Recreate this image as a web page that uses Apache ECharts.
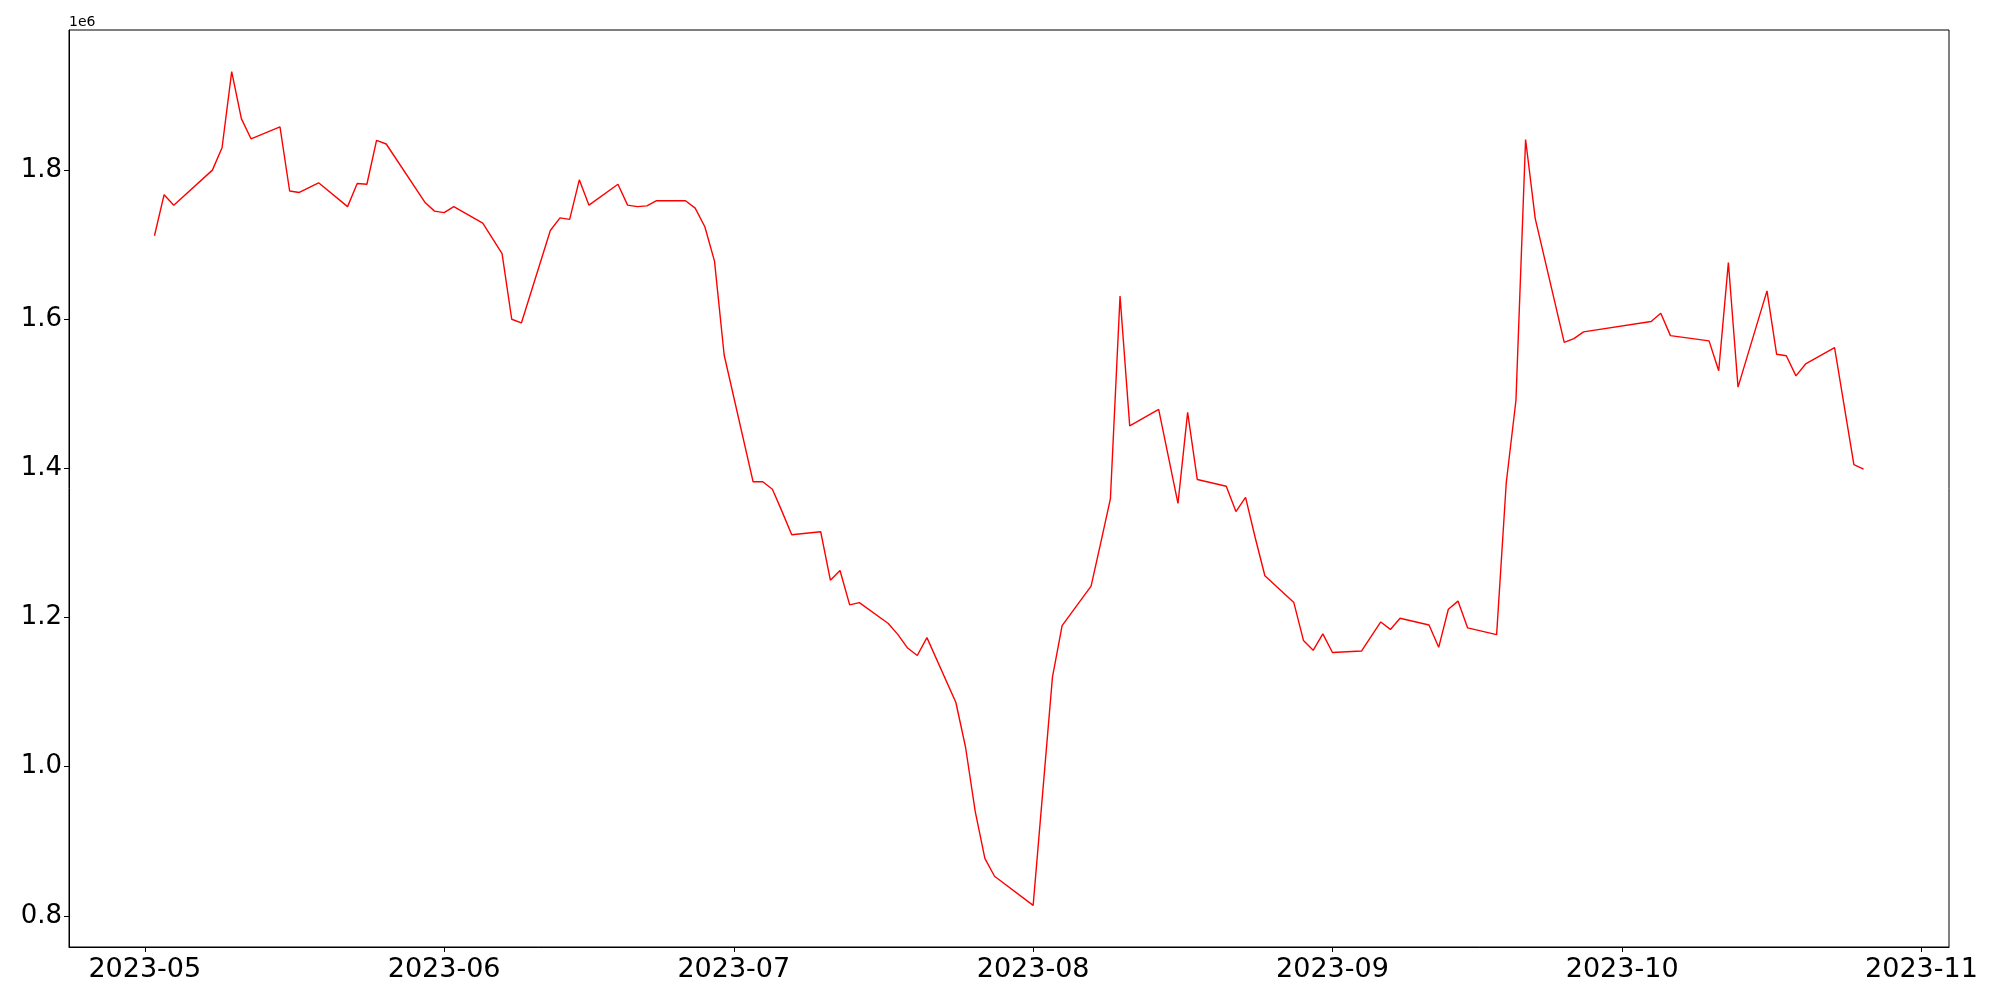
<!DOCTYPE html>
<html>
<head>
<meta charset="utf-8">
<script src="https://cdn.jsdelivr.net/npm/echarts@6/dist/echarts.min.js"></script>
<style>
html,body{margin:0;padding:0;background:#ffffff;}
#chart{width:2000px;height:1000px;}
</style>
</head>
<body>
<div id="chart"></div>
<script>
// ---- data ----
const dates = [
  '2023-05-02','2023-05-03','2023-05-04','2023-05-08','2023-05-09','2023-05-10','2023-05-11','2023-05-12',
  '2023-05-15','2023-05-16','2023-05-17','2023-05-19','2023-05-22','2023-05-23','2023-05-24','2023-05-25',
  '2023-05-26','2023-05-30','2023-05-31','2023-06-01','2023-06-02','2023-06-05','2023-06-07','2023-06-08',
  '2023-06-09','2023-06-12','2023-06-13','2023-06-14','2023-06-15','2023-06-16','2023-06-19','2023-06-20',
  '2023-06-21','2023-06-22','2023-06-23','2023-06-26','2023-06-27','2023-06-28','2023-06-29','2023-06-30',
  '2023-07-03','2023-07-04','2023-07-05','2023-07-06','2023-07-07','2023-07-10','2023-07-11','2023-07-12',
  '2023-07-13','2023-07-14','2023-07-17','2023-07-18','2023-07-19','2023-07-20','2023-07-21','2023-07-24',
  '2023-07-25','2023-07-26','2023-07-27','2023-07-28','2023-08-01','2023-08-03','2023-08-04','2023-08-07',
  '2023-08-08','2023-08-09','2023-08-10','2023-08-11','2023-08-14','2023-08-16','2023-08-17','2023-08-18',
  '2023-08-21','2023-08-22','2023-08-23','2023-08-24','2023-08-25','2023-08-28','2023-08-29','2023-08-30',
  '2023-08-31','2023-09-01','2023-09-04','2023-09-06','2023-09-07','2023-09-08','2023-09-11','2023-09-12',
  '2023-09-13','2023-09-14','2023-09-15','2023-09-18','2023-09-19','2023-09-20','2023-09-21','2023-09-22',
  '2023-09-25','2023-09-26','2023-09-27','2023-10-04','2023-10-05','2023-10-06','2023-10-10','2023-10-11',
  '2023-10-12','2023-10-13','2023-10-16','2023-10-17','2023-10-18','2023-10-19','2023-10-20','2023-10-23',
  '2023-10-25','2023-10-26'
];
const values = [
  1712000,1767000,1753000,1800000,1830000,1932000,1869000,1842000,
  1858000,1772000,1770000,1783000,1751000,1782000,1781000,1840000,
  1835000,1757000,1745000,1743000,1751000,1729000,1688000,1600000,
  1595000,1719000,1736000,1734000,1787000,1753000,1781000,1753000,
  1751000,1752000,1759000,1759000,1749000,1724000,1678000,1552000,
  1382000,1382000,1372000,1342000,1311000,1315000,1250000,1263000,
  1217000,1220000,1192000,1177000,1159000,1149000,1173000,1086000,
  1026000,940000,877000,853000,814000,1120000,1189000,1242000,
  1300000,1359000,1631000,1457000,1479000,1353000,1475000,1385000,
  1376000,1342000,1361000,1307000,1256000,1220000,1169000,1156000,
  1178000,1153000,1155000,1194000,1184000,1199000,1190000,1160000,
  1211000,1222000,1186000,1177000,1381000,1491000,1841000,1735000,
  1569000,1574000,1583000,1597000,1608000,1578000,1571000,1531000,
  1676000,1509000,1638000,1553000,1551000,1524000,1540000,1562000,
  1405000,1399000
];
const xTickLabels = ['2023-05','2023-06','2023-07','2023-08','2023-09','2023-10','2023-11'];
const yTickValues = [800000,1000000,1200000,1400000,1600000,1800000];
const offsetText = '1e6';

// ---- build ----
const times = dates.map(d => Date.parse(d));
const seriesData = times.map((t, i) => [t, values[i]]);
const tMin = Math.min(...times), tMax = Math.max(...times);
const tPad = (tMax - tMin) * 0.05;
const vMin = Math.min(...values), vMax = Math.max(...values);
const vPad = (vMax - vMin) * 0.05;
const xTicks = xTickLabels.map(s => Date.parse(s + '-01'));

function fmtMonth(v) {
  const d = new Date(v);
  return d.getUTCFullYear() + '-' + String(d.getUTCMonth() + 1).padStart(2, '0');
}

const FONT = 'DejaVu Sans';
const chart = echarts.init(document.getElementById('chart'), null, {renderer: 'canvas'});
chart.setOption({
  backgroundColor: '#ffffff',
  animation: false,
  grid: {
    left: 69, right: 51, top: 30, bottom: 53,
    show: true, borderColor: '#000000', borderWidth: 1, backgroundColor: 'transparent'
  },
  xAxis: {
    type: 'value',
    min: tMin - tPad,
    max: tMax + tPad,
    splitLine: {show: false},
    axisLine: {show: true, lineStyle: {color: '#000', width: 1}},
    axisTick: {show: true, length: 5, lineStyle: {color: '#000', width: 1}, customValues: xTicks},
    axisLabel: {
      customValues: xTicks,
      formatter: fmtMonth,
      fontFamily: FONT, fontSize: 27, color: '#000', margin: 9
    }
  },
  yAxis: {
    type: 'value',
    min: vMin - vPad,
    max: vMax + vPad,
    splitLine: {show: false},
    axisLine: {show: true, lineStyle: {color: '#000', width: 1}},
    axisTick: {show: true, length: 5, lineStyle: {color: '#000', width: 1}, customValues: yTickValues},
    axisLabel: {
      customValues: yTickValues,
      formatter: v => (v / 1e6).toFixed(1),
      fontFamily: FONT, fontSize: 26, color: '#000', margin: 7
    }
  },
  graphic: [{
    type: 'text', left: 69, top: 15,
    style: {text: offsetText, fontFamily: FONT, fontSize: 14, fill: '#000'}
  }],
  series: [{
    type: 'line',
    data: seriesData,
    showSymbol: false,
    symbol: 'none',
    lineStyle: {color: '#ff0000', width: 1.4},
    itemStyle: {color: '#ff0000'}
  }]
});
</script>
</body>
</html>
